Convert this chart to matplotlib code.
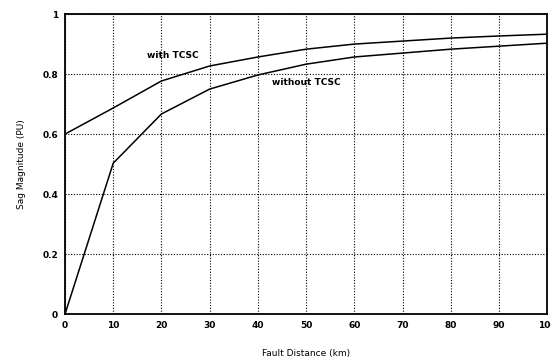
import matplotlib
matplotlib.use("Agg")
import matplotlib.pyplot as plt

# fault distance (km) and sag magnitude (pu)
distance = [0, 10, 20, 30, 40, 50, 60, 70, 80, 90, 100]
with_tcsc = [0.60, 0.687, 0.777, 0.827, 0.857, 0.883, 0.90, 0.91, 0.92, 0.927, 0.933]
without_tcsc = [0.0, 0.503, 0.667, 0.75, 0.797, 0.833, 0.857, 0.87, 0.883, 0.893, 0.903]
x_ticks = [0, 10, 20, 30, 40, 50, 60, 70, 80, 90, 100]
y_ticks = [0, 0.2, 0.4, 0.6, 0.8, 1]
y_tick_labels = ["0", "0.2", "0.4", "0.6", "0.8", "1"]

plt.rcParams["font.family"] = "DejaVu Sans"
plt.rcParams["font.weight"] = "bold"

fig = plt.figure(figsize=(5.51, 3.61), dpi=100)
ax = fig.add_axes([0.118, 0.130, 0.875, 0.831])

ax.plot(distance, with_tcsc, color="black", linewidth=1.1)
ax.plot(distance, without_tcsc, color="black", linewidth=1.1)

ax.set_xlim(0, 100)
ax.set_ylim(0, 1)
ax.set_xticks(x_ticks)
ax.set_yticks(y_ticks)
ax.set_yticklabels(y_tick_labels)
ax.tick_params(labelsize=6.5, length=0, pad=5)
ax.grid(True, color="black", linestyle=(0, (1, 1.5)), linewidth=0.8)
for s in ax.spines.values():
    s.set_linewidth(1.3)

ax.text(17, 0.855, "with TCSC", fontsize=6.5)
ax.text(43, 0.765, "without TCSC", fontsize=6.5)

ax.set_xlabel("Fault Distance (km)", fontsize=6.5, labelpad=14)
ax.set_ylabel("Sag Magnitude (PU)", fontsize=6.5, labelpad=12)

fig.savefig("out.png", dpi=100)
